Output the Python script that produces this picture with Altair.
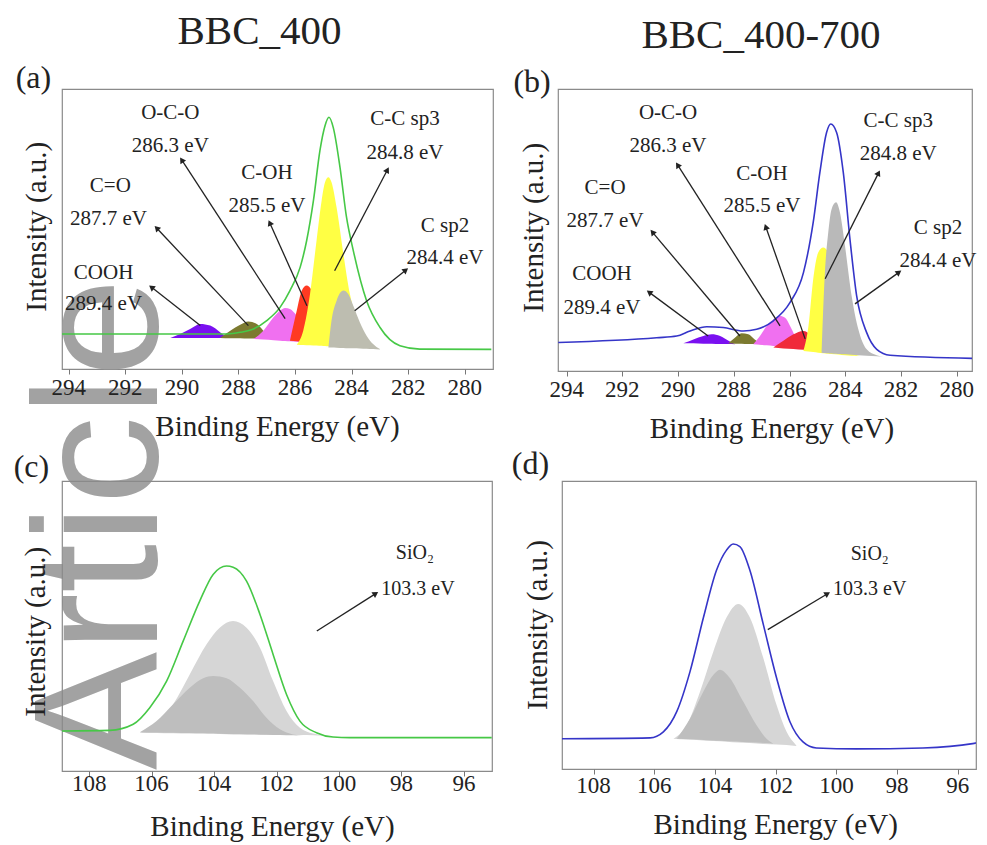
import math
import altair as alt
import pandas as pd

FONT = "Liberation Serif"
INK = "#222222"

# ---------------- (a) BBC_400, C 1s ----------------
A_ENV_X = [294.24, 288.41, 287.94, 287.47, 287.00, 286.53, 286.18, 285.82, 285.59, 285.35, 285.12,
           284.94, 284.80, 284.65, 284.41, 284.18, 283.94, 283.47, 283.00, 282.29, 281.59, 279.06]
A_ENV_Y = [12.5, 12.5, 13.1, 14.3, 17.3, 22.0, 28.0, 36.3, 45.8, 60.1, 78.0,
           86.9, 89.9, 86.3, 72.0, 54.2, 42.3, 24.4, 14.9, 8.3, 7.1, 7.0]

A_COOH_X = [290.41, 290.06, 289.71, 289.35, 289.00, 288.65, 288.41]
A_COOH_TOP = [11.1, 12.5, 14.3, 16.1, 15.5, 13.1, 11.1]
A_COOH_BASE = [11.1, 11.1, 11.1, 11.1, 11.1, 11.1, 11.1]

A_CO_X = [288.65, 288.29, 287.94, 287.65, 287.35, 287.12, 286.88]
A_CO_TOP = [11.1, 13.7, 15.8, 17.0, 16.1, 13.7, 11.0]
A_CO_BASE = [11.1, 11.0, 11.0, 10.9, 10.9, 10.8, 10.8]

A_OCO_X = [287.47, 287.12, 286.76, 286.53, 286.35, 286.18, 285.94, 285.71, 285.47, 285.24, 285.12]
A_OCO_TOP = [10.7, 13.7, 18.5, 20.8, 21.8, 21.4, 19.0, 15.5, 11.9, 9.5, 9.2]
A_OCO_BASE = [10.7, 10.5, 10.3, 10.1, 10.0, 9.9, 9.7, 9.6, 9.4, 9.3, 9.2]

A_COH_X = [286.18, 285.94, 285.76, 285.59, 285.41, 285.24, 285.00, 284.76, 284.53, 284.29]
A_COH_TOP = [10.1, 20.8, 28.0, 29.8, 28.0, 22.0, 14.9, 10.7, 8.9, 8.3]
A_COH_BASE = [10.1, 9.9, 9.7, 9.5, 9.3, 9.1, 8.9, 8.7, 8.5, 8.3]

A_CC_X = [285.94, 285.71, 285.47, 285.24, 285.06, 284.94, 284.82, 284.71, 284.53, 284.29,
          284.06, 283.82, 283.59, 283.35]
A_CC_TOP = [8.7, 13.7, 26.8, 45.8, 60.1, 66.7, 68.5, 66.7, 57.7, 41.1, 26.8, 17.3, 10.7, 7.7]
A_CC_BASE = [8.7, 8.6, 8.5, 8.4, 8.3, 8.2, 8.1, 8.0, 7.9, 7.8, 7.7, 7.7, 7.6, 7.5]

A_CSP2_X = [284.82, 284.71, 284.53, 284.29, 284.12, 283.94, 283.71, 283.47, 283.24, 283.00]
A_CSP2_TOP = [7.7, 17.3, 24.4, 28.0, 26.8, 22.6, 16.7, 11.9, 8.9, 7.1]
A_CSP2_BASE = [7.7, 7.7, 7.6, 7.5, 7.4, 7.4, 7.3, 7.2, 7.1, 7.0]

# ---------------- (b) BBC_400-700, C 1s ----------------
B_ENV_X = [294.30, 290.77, 290.05, 289.57, 288.97, 288.38, 287.66, 287.18, 286.58, 285.98, 285.50,
           285.15, 284.91, 284.67, 284.52, 284.31, 284.07, 283.83, 283.59, 283.23, 282.87, 282.39, 278.98]
B_ENV_Y = [10.1, 11.8, 12.4, 14.2, 15.7, 15.4, 14.2, 14.8, 17.8, 24.3, 34.9,
           52.7, 70.4, 84.6, 87.6, 84.6, 70.4, 46.7, 26.6, 13.6, 7.7, 5.6, 4.4]

B_COOH_X = [289.81, 289.45, 289.09, 288.79, 288.49, 288.19, 287.95]
B_COOH_TOP = [9.8, 11.2, 12.4, 13.0, 12.4, 10.7, 9.5]
B_COOH_BASE = [9.8, 9.8, 9.7, 9.7, 9.6, 9.6, 9.5]

B_CO_X = [288.20, 287.96, 287.72, 287.48, 287.25, 287.00]
B_CO_TOP = [9.8, 11.8, 13.4, 13.0, 11.2, 9.5]
B_CO_BASE = [9.8, 9.7, 9.7, 9.6, 9.6, 9.5]

B_OCO_X = [287.30, 287.06, 286.82, 286.58, 286.34, 286.16, 285.98, 285.80, 285.56, 285.38]
B_OCO_TOP = [9.5, 12.4, 16.0, 18.3, 19.5, 18.9, 16.0, 12.4, 8.9, 7.9]
B_OCO_BASE = [9.5, 9.3, 9.1, 8.9, 8.7, 8.6, 8.4, 8.2, 8.0, 7.9]

B_COH_X = [286.58, 286.22, 285.86, 285.50, 285.26, 284.97, 284.67, 284.31]
B_COH_TOP = [8.3, 10.7, 13.0, 14.2, 13.0, 10.1, 7.7, 6.5]
B_COH_BASE = [8.3, 8.0, 7.8, 7.5, 7.3, 7.0, 6.8, 6.5]

B_CC_X = [285.50, 285.32, 285.15, 284.97, 284.79, 284.61, 284.37, 284.13, 283.89, 283.65, 283.47]
B_CC_TOP = [7.1, 16.0, 32.5, 42.0, 43.8, 42.0, 32.5, 19.5, 10.1, 5.9, 5.3]
B_CC_BASE = [7.1, 6.9, 6.7, 6.5, 6.3, 6.1, 5.9, 5.7, 5.5, 5.4, 5.3]

B_CSP2_X = [284.85, 284.73, 284.61, 284.49, 284.33, 284.19, 284.01, 283.77, 283.53, 283.23, 282.87, 282.63]
B_CSP2_TOP = [6.5, 34.9, 49.1, 57.4, 59.8, 56.2, 44.4, 26.6, 14.8, 7.7, 5.6, 5.1]
B_CSP2_BASE = [6.5, 6.4, 6.3, 6.2, 6.1, 6.0, 5.9, 5.8, 5.6, 5.4, 5.2, 5.1]

# ---------------- (c) BBC_400, Si 2p ----------------
C_ENV_X = [109.05, 107.34, 106.59, 106.06, 105.52, 104.99, 104.46, 104.03, 103.60, 103.39, 102.96,
           102.53, 102.11, 101.68, 101.25, 100.72, 100.19, 99.65, 95.11]
C_ENV_Y = [13.8, 14.0, 16.1, 21.8, 31.0, 44.8, 58.6, 67.8, 70.7, 70.3, 65.5,
           54.0, 40.2, 26.4, 17.2, 13.2, 11.7, 11.5, 11.5]

C_HI_X = [106.38, 105.84, 105.31, 104.78, 104.24, 103.82, 103.39, 102.96, 102.53, 102.11, 101.68,
          101.25, 100.83, 100.51]
C_HI_TOP = [13.2, 16.1, 23.0, 33.3, 43.7, 49.4, 51.7, 49.4, 42.5, 31.0, 20.7, 14.9, 12.9, 12.4]
C_HI_BASE = [13.2, 13.1, 13.0, 12.9, 12.9, 12.8, 12.7, 12.7, 12.6, 12.5, 12.4, 12.4, 12.3, 12.2]

C_LO_X = [106.38, 105.84, 105.31, 104.78, 104.35, 104.03, 103.60, 103.17, 102.75, 102.32, 101.89,
          101.47, 101.15]
C_LO_TOP = [13.4, 17.2, 23.0, 28.7, 32.0, 32.8, 32.0, 28.7, 24.1, 18.4, 14.4, 12.6, 12.2]
C_LO_BASE = [13.4, 13.3, 13.2, 13.1, 13.0, 12.9, 12.8, 12.7, 12.6, 12.5, 12.4, 12.3, 12.2]

# ---------------- (d) BBC_400-700, Si 2p ----------------
D_ENV_X = [109.04, 106.14, 105.70, 105.26, 104.82, 104.38, 103.95, 103.62, 103.40, 103.18, 102.85,
           102.41, 101.97, 101.53, 101.10, 100.66, 99.34, 97.15, 95.51, 95.07]
D_ENV_Y = [10.5, 10.8, 12.9, 19.9, 33.9, 52.6, 69.0, 76.0, 78.1, 77.2, 69.0,
           50.3, 31.6, 16.4, 9.4, 7.3, 7.0, 7.3, 8.8, 10.5]

D_HI_X = [105.37, 104.93, 104.49, 104.05, 103.62, 103.23, 102.85, 102.41, 101.97, 101.64, 101.32]
D_HI_TOP = [10.5, 15.2, 26.9, 40.9, 52.6, 57.3, 52.6, 38.6, 22.2, 12.9, 8.2]
D_HI_BASE = [10.5, 10.2, 10.0, 9.7, 9.5, 9.2, 9.0, 8.7, 8.5, 8.3, 8.0]

D_LO_X = [105.26, 104.82, 104.38, 104.05, 103.84, 103.51, 103.07, 102.63, 102.30, 102.08]
D_LO_TOP = [10.5, 17.5, 26.9, 32.7, 34.5, 31.6, 23.4, 15.2, 10.5, 8.8]
D_LO_BASE = [10.5, 10.3, 10.1, 9.9, 9.8, 9.6, 9.4, 9.2, 9.0, 8.8]

# ---------------- annotations ----------------
C1S_TEXT = ["O-C-O", "286.3 eV", "C=O", "287.7 eV", "C-OH", "285.5 eV",
            "C-C sp3", "284.8 eV", "C sp2", "284.4 eV", "COOH", "289.4 eV"]
A_TEXT_X = [290.41, 290.41, 292.53, 292.60, 286.99, 286.99, 282.11, 282.11, 280.70, 280.70, 292.77, 292.77]
A_TEXT_Y = [91.5, 79.8, 65.5, 53.7, 70.1, 58.3, 89.4, 77.3, 51.2, 39.8, 34.4, 23.3]
B_TEXT_X = [290.36, 290.36, 292.62, 292.62, 286.99, 286.99, 282.10, 282.10, 280.67, 280.67, 292.73, 292.73]
B_TEXT_Y = [91.6, 79.9, 65.0, 53.2, 69.9, 58.6, 88.7, 77.0, 50.8, 39.0, 34.4, 22.4]

# arrows: tail (x, y) -> head (x, y)   order: COOH, C=O, O-C-O, C-OH, C-C sp3, C sp2
A_ARR_X = [289.35, 287.65, 286.35, 285.58, 284.60, 283.89]
A_ARR_Y = [15.5, 15.5, 18.0, 22.6, 35.1, 20.8]
A_ARR_X2 = [291.05, 290.87, 289.99, 286.88, 282.75, 282.11]
A_ARR_Y2 = [29.0, 50.1, 74.4, 51.9, 70.8, 35.1]
B_ARR_X = [288.92, 287.78, 286.34, 285.44, 284.72, 283.65]
B_ARR_Y = [12.4, 12.4, 16.0, 11.4, 32.7, 23.8]
B_ARR_X2 = [291.01, 290.90, 290.00, 286.84, 282.82, 282.10]
B_ARR_Y2 = [27.7, 49.0, 72.8, 50.8, 69.9, 34.8]

SI_TEXT = ["SiO\u2082", "103.3 eV"]
C_TEXT_X = [97.57, 97.47]
C_TEXT_Y = [75.2, 62.8]
D_TEXT_X = [98.90, 98.90]
D_TEXT_Y = [74.7, 62.5]
C_ARR = [100.71, 48.3, 98.85, 61.0]
D_ARR = [102.26, 48.4, 100.32, 60.7]

TAGS = ["(a)", "(b)", "(c)", "(d)"]
TAG_X = [295.25, 295.24, 109.85, 110.08]
TAG_Y = [104.0, 102.6, 104.8, 105.8]

C1S_TICKS = [294, 292, 290, 288, 286, 284, 282, 280]
SI_TICKS = [108, 106, 104, 102, 100, 98, 96]
X_TITLE = "Binding Energy (eV)"
Y_TITLE = "Intensity (a.u.)"
# where the axis texts sit: tick-label row, x-title centre (x, y), y-title centre (x, y)
A_GUIDE = [-6.7, 286.62, -20.6, 295.12, 50.8]
B_GUIDE = [-6.7, 286.63, -20.4, 295.17, 50.8]
C_GUIDE = [-4.6, 102.13, -19.4, 109.69, 48.0]
D_GUIDE = [-6.0, 102.00, -19.6, 109.83, 50.0]

# publisher watermark running up the left edge (text, baseline x, start y in panel (a) units)
WATERMARK = "Article"
WM_X = 290.88
WM_Y = -143.2

C1S_COLORS = ["#7a10f0", "#7c7a30", "#f070f0", "#ff3a22", "#ffff44", "#bdbdb0"]
C1S_COLORS_B = ["#7a10f0", "#7c7a30", "#f070f0", "#f02a3a", "#ffff44", "#b9b9b9"]
SI_COLORS = ["#d6d6d6", "#bebebe"]


def panel(xdom, width, height, ticks, guide, comps, colors, env_x, env_y, env_color,
          text, text_x, text_y, arrows, tag, tag_x, tag_y, title=None, title_dx=0, text_size=21,
          watermark=None):
    xsc = alt.Scale(domain=xdom, reverse=True, nice=False, zero=False)
    ysc = alt.Scale(domain=[0, 100], nice=False, zero=False)
    xaxis = alt.Axis(values=ticks, labels=False, title=None, grid=False, domain=False,
                     tickSize=5, tickColor="#777777")
    yaxis = alt.Axis(labels=False, ticks=False, domain=False, grid=False, title=None)

    def X(f):
        return alt.X(f, type="quantitative", scale=xsc, axis=xaxis)

    def Y(f):
        return alt.Y(f, type="quantitative", scale=ysc, axis=yaxis)

    layers = []
    if watermark:
        wm = pd.DataFrame({"x": [watermark[1]], "y": [watermark[2]], "t": [watermark[0]]})
        layers.append(alt.Chart(wm).mark_text(font="Liberation Sans", fontSize=177,
                                              color="#a2a2a2", angle=270, align="left",
                                              baseline="alphabetic")
                      .encode(x=X("x"), y=Y("y"), text="t:N"))
    for (xs, tops, bases), col in zip(comps, colors):
        df = pd.DataFrame({"x": xs, "top": tops, "base": bases})
        layers.append(alt.Chart(df).mark_area(color=col, interpolate="monotone", clip=True)
                      .encode(x=X("x"), y=Y("top"), y2=alt.Y2("base")))
    env = pd.DataFrame({"x": env_x, "y": env_y})
    layers.append(alt.Chart(env).mark_line(color=env_color, strokeWidth=1.6,
                                           interpolate="monotone", clip=True)
                  .encode(x=X("x"), y=Y("y")))

    ax, ay, ax2, ay2 = arrows
    sx = width / (xdom[1] - xdom[0])
    sy = height / 100.0
    ang = []
    for i in range(len(ax)):
        dx = -(ax2[i] - ax[i]) * sx
        dy = -(ay2[i] - ay[i]) * sy
        ang.append(math.degrees(math.atan2(dx, -dy)) % 360)
    arr = pd.DataFrame({"x": ax, "y": ay, "x2": ax2, "y2": ay2, "ang": ang})
    layers.append(alt.Chart(arr).mark_rule(color=INK, strokeWidth=1.3)
                  .encode(x=X("x"), y=Y("y"), x2="x2", y2="y2"))
    layers.append(alt.Chart(arr).mark_point(shape="triangle", filled=True, size=45, color=INK,
                                            opacity=1)
                  .encode(x=X("x2"), y=Y("y2"), angle=alt.Angle("ang:Q", scale=None)))

    lab = pd.DataFrame({"x": text_x, "y": text_y, "t": text})
    layers.append(alt.Chart(lab).mark_text(font=FONT, fontSize=text_size, color=INK)
                  .encode(x=X("x"), y=Y("y"), text="t:N"))
    tg = pd.DataFrame({"x": [tag_x], "y": [tag_y], "t": [tag]})
    layers.append(alt.Chart(tg).mark_text(font=FONT, fontSize=32, color=INK)
                  .encode(x=X("x"), y=Y("y"), text="t:N"))

    # axis texts (tick labels and titles), placed through the panel's own scales
    lab_y, xt_x, xt_y, yt_x, yt_y = guide
    tl = pd.DataFrame({"x": ticks, "y": [lab_y] * len(ticks), "t": [str(t) for t in ticks]})
    layers.append(alt.Chart(tl).mark_text(font=FONT, fontSize=23, color=INK)
                  .encode(x=X("x"), y=Y("y"), text="t:N"))
    xt = pd.DataFrame({"x": [xt_x], "y": [xt_y], "t": [X_TITLE]})
    layers.append(alt.Chart(xt).mark_text(font=FONT, fontSize=29, color=INK)
                  .encode(x=X("x"), y=Y("y"), text="t:N"))
    yt = pd.DataFrame({"x": [yt_x], "y": [yt_y], "t": [Y_TITLE]})
    layers.append(alt.Chart(yt).mark_text(font=FONT, fontSize=29, color=INK, angle=270)
                  .encode(x=X("x"), y=Y("y"), text="t:N"))

    ch = alt.layer(*layers).properties(
        width=width, height=height,
        view=alt.ViewBackground(stroke="#8a8a8a", strokeWidth=1.2))
    if title:
        ch = ch.properties(title=alt.Title(title, fontSize=41, font=FONT, fontWeight="normal",
                                           color=INK, offset=9, anchor="middle", dx=title_dx))
    return ch


pa = panel([279.0, 294.24], 431, 280, C1S_TICKS, A_GUIDE,
           [(A_COOH_X, A_COOH_TOP, A_COOH_BASE), (A_CO_X, A_CO_TOP, A_CO_BASE),
            (A_OCO_X, A_OCO_TOP, A_OCO_BASE), (A_COH_X, A_COH_TOP, A_COH_BASE),
            (A_CC_X, A_CC_TOP, A_CC_BASE), (A_CSP2_X, A_CSP2_TOP, A_CSP2_BASE)],
           C1S_COLORS, A_ENV_X, A_ENV_Y, "#46c846", C1S_TEXT, A_TEXT_X, A_TEXT_Y,
           (A_ARR_X, A_ARR_Y, A_ARR_X2, A_ARR_Y2), TAGS[0], TAG_X[0], TAG_Y[0],
           title="BBC_400", title_dx=-18, watermark=(WATERMARK, WM_X, WM_Y))

pb = panel([279.45, 294.31], 414, 282, C1S_TICKS, B_GUIDE,
           [(B_COOH_X, B_COOH_TOP, B_COOH_BASE), (B_CO_X, B_CO_TOP, B_CO_BASE),
            (B_OCO_X, B_OCO_TOP, B_OCO_BASE), (B_COH_X, B_COH_TOP, B_COH_BASE),
            (B_CC_X, B_CC_TOP, B_CC_BASE), (B_CSP2_X, B_CSP2_TOP, B_CSP2_BASE)],
           C1S_COLORS_B, B_ENV_X, B_ENV_Y, "#3535c8", C1S_TEXT, B_TEXT_X, B_TEXT_Y,
           (B_ARR_X, B_ARR_Y, B_ARR_X2, B_ARR_Y2), TAGS[1], TAG_X[1], TAG_Y[1],
           title="BBC_400-700", title_dx=-4)

pc = panel([95.10, 108.87], 430, 290, SI_TICKS, C_GUIDE,
           [(C_HI_X, C_HI_TOP, C_HI_BASE), (C_LO_X, C_LO_TOP, C_LO_BASE)],
           SI_COLORS, C_ENV_X, C_ENV_Y, "#46c846", SI_TEXT, C_TEXT_X, C_TEXT_Y,
           ([C_ARR[0]], [C_ARR[1]], [C_ARR[2]], [C_ARR[3]]), TAGS[2], TAG_X[2], TAG_Y[2],
           text_size=20)

pd_ = panel([95.40, 109.04], 414, 288, SI_TICKS, D_GUIDE,
            [(D_HI_X, D_HI_TOP, D_HI_BASE), (D_LO_X, D_LO_TOP, D_LO_BASE)],
            SI_COLORS, D_ENV_X, D_ENV_Y, "#3535c8", SI_TEXT, D_TEXT_X, D_TEXT_Y,
            ([D_ARR[0]], [D_ARR[1]], [D_ARR[2]], [D_ARR[3]]), TAGS[3], TAG_X[3], TAG_Y[3],
            text_size=20)

# with flush bounds the nested rows report no height, so the row gap carries the row height
chart = alt.vconcat(
    alt.hconcat(pa, pb, spacing=65, bounds="flush"),
    alt.hconcat(pc, pd_, spacing=70, bounds="flush"),
    spacing=392,
    bounds="flush",
).properties(
    padding={"left": 5, "top": 2, "right": 0, "bottom": 0},
    background="white",
)

chart.save("out.html", embed_options={"renderer": "svg", "actions": False})
